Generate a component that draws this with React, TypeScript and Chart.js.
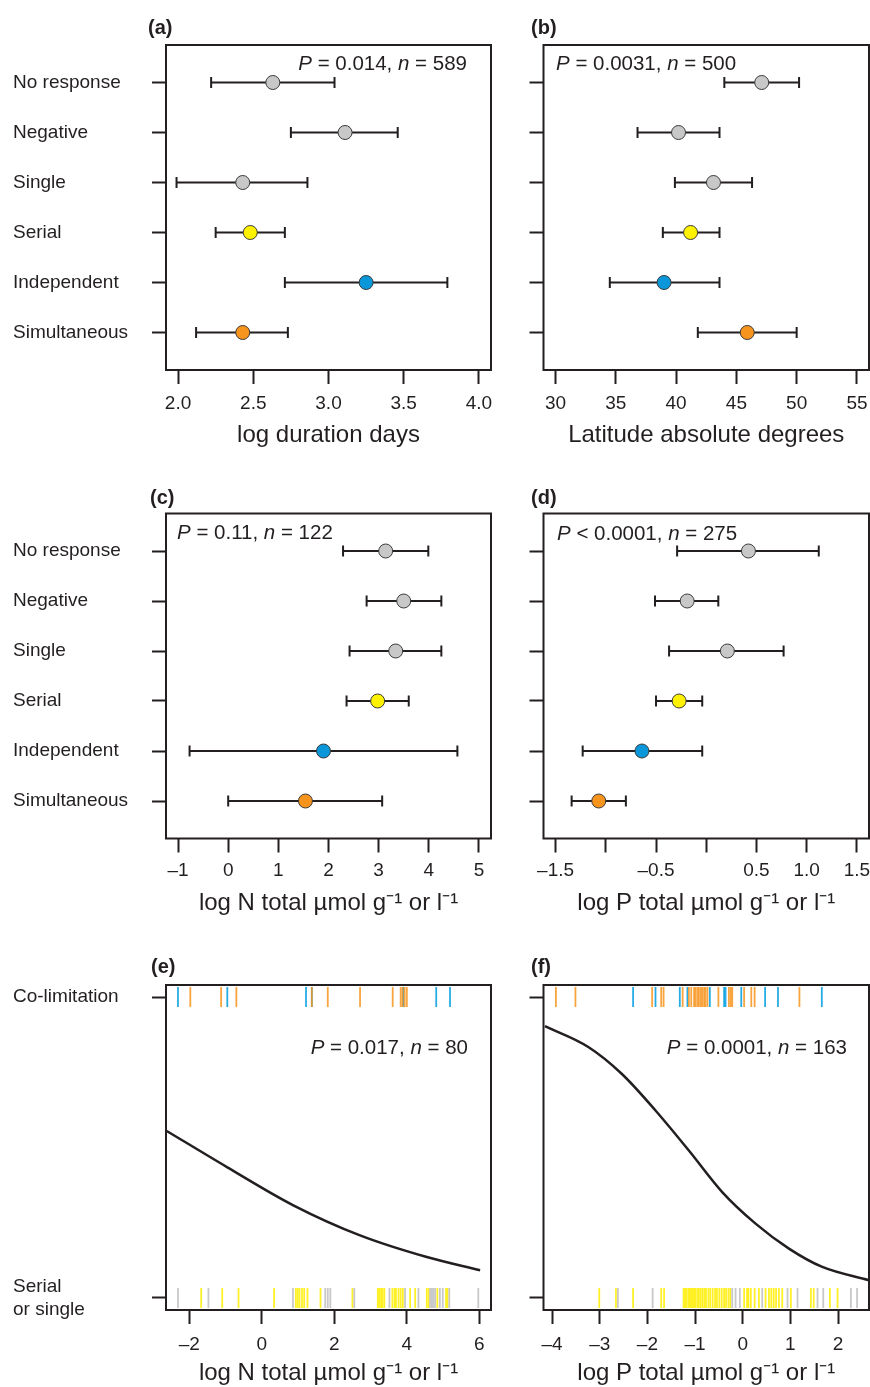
import React, { useEffect, useRef } from 'react';
import { Chart, registerables } from 'chart.js';

Chart.register(...registerables);

const FONT = '"Liberation Sans", Arial, Helvetica, sans-serif';
const INK = '#231f20';

// ---------- categories ----------
const categories = ['No response', 'Negative', 'Single', 'Serial', 'Independent', 'Simultaneous'];
const categoryLevels = [1, 2, 3, 4, 5, 6];
const markerColors = ['#c8c8c8', '#c8c8c8', '#c8c8c8', '#fff200', '#0a97d9', '#f7941d'];

// ---------- (a) log duration days ----------
const durMean = [2.63, 3.11, 2.43, 2.48, 3.25, 2.43];
const durLow = [2.22, 2.75, 1.99, 2.25, 2.71, 2.12];
const durHigh = [3.04, 3.46, 2.86, 2.71, 3.79, 2.73];
const durTicks = [2, 2.5, 3, 3.5, 4];
const durTickLabels = ['2.0', '2.5', '3.0', '3.5', '4.0'];

// ---------- (b) latitude ----------
const latMean = [47.1, 40.2, 43.1, 41.2, 39.0, 45.9];
const latLow = [44.0, 36.8, 39.9, 38.9, 34.5, 41.8];
const latHigh = [50.2, 43.6, 46.3, 43.6, 43.6, 50.0];
const latTicks = [30, 35, 40, 45, 50, 55];
const latTickLabels = ['30', '35', '40', '45', '50', '55'];

// ---------- (c) log N ----------
const nMean = [3.14, 3.50, 3.34, 2.98, 1.90, 1.54];
const nLow = [2.29, 2.76, 2.42, 2.36, -0.77, 0.0];
const nHigh = [3.99, 4.25, 4.25, 3.60, 4.57, 3.07];
const nTicks = [-1, 0, 1, 2, 3, 4, 5];
const nTickLabels = ['–1', '0', '1', '2', '3', '4', '5'];

// ---------- (d) log P ----------
const pMean = [0.42, -0.19, 0.21, -0.27, -0.64, -1.07];
const pLow = [-0.29, -0.51, -0.37, -0.50, -1.23, -1.34];
const pHigh = [1.12, 0.12, 0.77, -0.04, -0.04, -0.80];
const pTicks = [-1.5, -1, -0.5, 0, 0.5, 1, 1.5];
const pTickLabels = ['–1.5', '', '–0.5', '', '0.5', '1.0', '1.5'];

// ---------- (e) co-limitation vs log N ----------
const eColimBlue = [-2.31, -0.95, 1.22, 1.38, 3.90, 4.81, 5.19];
const eColimOrange = [-1.97, -1.12, -0.70, 1.38, 1.82, 2.71, 3.61, 3.83, 3.88, 3.94, 4.00];
const eSerialYellow = [-1.67, -1.09, -0.64, 0.34, 0.94, 0.99, 1.04, 1.11, 1.17, 1.26, 1.62, 2.50, 3.20, 3.24, 3.29, 3.33, 3.38, 3.60, 3.66, 3.70, 3.77, 3.83, 3.89, 4.09, 4.23, 4.55, 4.60, 4.84, 5.08, 5.12];
const eSerialGray = [-2.31, -1.47, 0.86, 1.75, 1.82, 1.89, 2.55, 3.52, 3.95, 4.32, 4.64, 4.69, 4.73, 4.78, 4.91, 4.99, 5.17, 5.97];
const eCurveX = [-2.62, -0.96, 0.87, 2.71, 4.55, 6.02];
const eCurveY = [0.555, 0.435, 0.308, 0.208, 0.136, 0.092];
const eTicks = [-2, 0, 2, 4, 6];
const eTickLabels = ['–2', '0', '2', '4', '6'];

// ---------- (f) co-limitation vs log P ----------
const fColimBlue = [-2.30, -1.83, -1.32, -1.16, -0.69, -0.39, -0.36, -0.03, 0.47, 0.74, 1.66];
const fColimOrange = [-3.92, -3.51, -1.90, -1.71, -1.66, -1.26, -1.13, -1.08, -1.02, -0.99, -0.95, -0.92, -0.88, -0.85, -0.81, -0.78, -0.74, -0.51, -0.29, -0.25, -0.22, 0.03, 0.18, 0.25, 1.19];
const fSerialYellow = [-3.01, -2.66, -2.30, -1.71, -1.65, -1.24, -1.21, -1.18, -1.14, -1.11, -1.08, -1.05, -1.02, -0.99, -0.95, -0.92, -0.88, -0.84, -0.80, -0.77, -0.72, -0.68, -0.63, -0.58, -0.54, -0.49, -0.44, -0.39, -0.35, -0.30, -0.26, 0.03, 0.09, 0.12, 0.17, 0.25, 0.34, 0.48, 0.55, 0.60, 0.65, 0.70, 0.76, 0.83, 1.01, 1.43, 1.49, 1.83, 1.99];
const fSerialGray = [-2.62, -1.89, -0.22, -0.15, -0.06, 0.41, 0.94, 1.15, 1.57, 1.69, 2.27, 2.40];
const fCurveX = [-4.15, -3.24, -2.54, -1.83, -1.13, -0.43, 0.27, 0.97, 1.67, 2.65];
const fCurveY = [0.903, 0.834, 0.745, 0.623, 0.490, 0.352, 0.247, 0.164, 0.103, 0.059];
const fTicks = [-4, -3, -2, -1, 0, 1, 2];
const fTickLabels = ['–4', '–3', '–2', '–1', '0', '1', '2'];

const outcomeLevels = [0, 1];
const outcomeLabels: (string | string[])[] = [['Serial', 'or single'], 'Co-limitation'];

const RUG_BLUE = 'rgba(0,158,224,0.85)';
const RUG_ORANGE = 'rgba(247,148,29,0.85)';
const RUG_YELLOW = 'rgba(255,238,0,0.85)';
const RUG_GRAY = 'rgba(190,190,190,0.85)';

// ---------- geometry ----------
type Geo = {
  left: number; top: number; width: number; height: number;
  areaLeft: number; areaRight: number; areaTop: number; areaBottom: number;
  tickPad: number; titleCenter: number;
};

const colL = { left: 0, width: 500, areaLeft: 166, areaRight: 491 };
const colR = { left: 500, width: 370, areaLeft: 543.5, areaRight: 869 };
const row1 = { top: 0, height: 460, areaTop: 45, areaBottom: 370, tickPad: 8, titleCenter: 435 };
const row2 = { top: 470, height: 460, areaTop: 513.5, areaBottom: 838.5, tickPad: 6.5, titleCenter: 903 };
const row3 = { top: 940, height: 447, areaTop: 985, areaBottom: 1310, tickPad: 9.5, titleCenter: 1373 };

const TITLE_SIZE = 24;

const boxPlugin = {
  id: 'box',
  afterDraw(chart: any) {
    const { ctx, chartArea } = chart;
    ctx.save();
    ctx.strokeStyle = INK;
    ctx.lineWidth = 2;
    ctx.strokeRect(chartArea.left, chartArea.top, chartArea.right - chartArea.left, chartArea.bottom - chartArea.top);
    ctx.restore();
  },
};

type Axis = { min: number; max: number; ticks: number[]; labels: (string | string[])[]; title?: string; reverse?: boolean; show?: boolean };

function forestDatasets(mean: number[], low: number[], high: number[]) {
  const ds: any[] = [
    {
      data: mean.map((m, i) => ({ x: m, y: categoryLevels[i] })),
      pointRadius: 7,
      pointBackgroundColor: markerColors,
      pointBorderColor: '#3a3a3a',
      pointBorderWidth: 1,
      showLine: false,
    },
  ];
  low.forEach((lo, i) => {
    ds.push({
      data: [{ x: lo, y: categoryLevels[i] }, { x: high[i], y: categoryLevels[i] }],
      showLine: true,
      borderColor: INK,
      borderWidth: 2,
      pointStyle: 'line',
      pointRotation: 90,
      pointRadius: 5.5,
      pointBorderColor: INK,
      pointBorderWidth: 2,
    });
  });
  return ds;
}

function rug(values: number[], level: number, color: string) {
  return {
    data: values.map((v) => ({ x: v, y: level })),
    showLine: false,
    pointStyle: 'line',
    pointRotation: 90,
    pointRadius: 10,
    pointBorderColor: color,
    pointBorderWidth: 1.8,
  };
}

function curve(xs: number[], ys: number[]) {
  return {
    data: xs.map((x, i) => ({ x, y: ys[i] })),
    showLine: true,
    borderColor: INK,
    borderWidth: 2.5,
    pointRadius: 0,
    cubicInterpolationMode: 'monotone',
  };
}

function Panel({ g, x, y, datasets }: { g: Geo; x: Axis; y: Axis; datasets: any[] }) {
  const ref = useRef<HTMLCanvasElement>(null);
  useEffect(() => {
    const padLeft = g.left === 0 ? 13 : 0;
    const bottom = g.top + g.height;
    const titlePad = bottom - g.titleCenter - (TITLE_SIZE * 1.2) / 2;
    const grid = {
      display: true,
      drawOnChartArea: false,
      drawTicks: true,
      tickLength: 14,
      tickWidth: 2,
      tickColor: INK,
    };
    const chart = new Chart(ref.current as HTMLCanvasElement, {
      type: 'scatter',
      data: { datasets },
      options: {
        responsive: false,
        animation: false,
        events: [],
        layout: {
          autoPadding: false,
          padding: {
            left: padLeft,
            right: g.left + g.width - g.areaRight,
            top: g.areaTop - g.top,
            bottom: 0,
          },
        },
        plugins: { legend: { display: false }, tooltip: { enabled: false } },
        scales: {
          x: {
            type: 'linear',
            min: x.min,
            max: x.max,
            afterBuildTicks: (s: any) => {
              s.ticks = x.ticks.map((v) => ({ value: v }));
            },
            afterFit: (s: any) => {
              s.height = bottom - g.areaBottom;
              s.paddingLeft = 0;
              s.paddingRight = 0;
            },
            ticks: {
              autoSkip: false,
              maxRotation: 0,
              padding: g.tickPad,
              color: INK,
              font: { family: FONT, size: 19 },
              callback: (_v: any, i: number) => x.labels[i],
            },
            grid,
            border: { display: false },
            title: {
              display: true,
              text: x.title,
              color: INK,
              font: { family: FONT, size: TITLE_SIZE },
              padding: { top: 0, bottom: titlePad },
            },
          },
          y: {
            type: 'linear',
            min: y.min,
            max: y.max,
            reverse: !!y.reverse,
            afterBuildTicks: (s: any) => {
              s.ticks = y.ticks.map((v) => ({ value: v }));
            },
            afterFit: (s: any) => {
              s.width = g.areaLeft - g.left - padLeft;
              s.paddingTop = 0;
              s.paddingBottom = 0;
            },
            ticks: {
              display: !!y.show,
              crossAlign: 'far',
              padding: 0,
              color: INK,
              font: { family: FONT, size: 19 },
              callback: (_v: any, i: number) => y.labels[i],
            },
            grid,
            border: { display: false },
          },
        },
      } as any,
      plugins: [boxPlugin],
    });
    return () => chart.destroy();
  }, []);
  return (
    <canvas
      ref={ref}
      width={g.width}
      height={g.height}
      style={{ position: 'absolute', left: g.left, top: g.top, width: g.width, height: g.height }}
    />
  );
}

function Label({ x, y, children, bold, anchorRight }: any) {
  return (
    <div
      style={{
        position: 'absolute',
        left: x,
        top: y,
        transform: `translate(${anchorRight ? '-100%' : '0'}, -50%)`,
        fontFamily: FONT,
        fontSize: bold ? 20 : 20.5,
        fontWeight: bold ? 700 : 400,
        color: INK,
        whiteSpace: 'nowrap',
        lineHeight: 1,
      }}
    >
      {children}
    </div>
  );
}

const catAxis = (show: boolean): Axis => ({ min: 0.25, max: 6.75, ticks: categoryLevels, labels: categories, reverse: true, show });
const outAxis = (show: boolean): Axis => ({ min: -0.04, max: 1.04, ticks: outcomeLevels, labels: outcomeLabels, show });

export default function App() {
  useEffect(() => {
    document.body.style.margin = '0';
    document.body.style.background = '#ffffff';
  }, []);
  const gA = { ...colL, ...row1 };
  const gB = { ...colR, ...row1 };
  const gC = { ...colL, ...row2 };
  const gD = { ...colR, ...row2 };
  const gE = { ...colL, ...row3 };
  const gF = { ...colR, ...row3 };
  return (
    <div style={{ position: 'relative', width: 870, height: 1387, background: '#fff', overflow: 'hidden' }}>
      <Panel g={gA} x={{ min: 1.92, max: 4.08, ticks: durTicks, labels: durTickLabels, title: 'log duration days' }} y={catAxis(true)} datasets={forestDatasets(durMean, durLow, durHigh)} />
      <Panel g={gB} x={{ min: 29, max: 56, ticks: latTicks, labels: latTickLabels, title: 'Latitude absolute degrees' }} y={catAxis(false)} datasets={forestDatasets(latMean, latLow, latHigh)} />
      <Panel g={gC} x={{ min: -1.24, max: 5.24, ticks: nTicks, labels: nTickLabels, title: 'log N total µmol g⁻¹ or l⁻¹' }} y={catAxis(true)} datasets={forestDatasets(nMean, nLow, nHigh)} />
      <Panel g={gD} x={{ min: -1.62, max: 1.62, ticks: pTicks, labels: pTickLabels, title: 'log P total µmol g⁻¹ or l⁻¹' }} y={catAxis(false)} datasets={forestDatasets(pMean, pLow, pHigh)} />
      <Panel
        g={gE}
        x={{ min: -2.64, max: 6.32, ticks: eTicks, labels: eTickLabels, title: 'log N total µmol g⁻¹ or l⁻¹' }}
        y={outAxis(true)}
        datasets={[
          curve(eCurveX, eCurveY),
          rug(eColimOrange, 1, RUG_ORANGE),
          rug(eColimBlue, 1, RUG_BLUE),
          rug(eSerialGray, 0, RUG_GRAY),
          rug(eSerialYellow, 0, RUG_YELLOW),
        ]}
      />
      <Panel
        g={gF}
        x={{ min: -4.18, max: 2.65, ticks: fTicks, labels: fTickLabels, title: 'log P total µmol g⁻¹ or l⁻¹' }}
        y={outAxis(false)}
        datasets={[
          curve(fCurveX, fCurveY),
          rug(fColimOrange, 1, RUG_ORANGE),
          rug(fColimBlue, 1, RUG_BLUE),
          rug(fSerialGray, 0, RUG_GRAY),
          rug(fSerialYellow, 0, RUG_YELLOW),
        ]}
      />

      <Label x={148} y={27} bold>(a)</Label>
      <Label x={531} y={27} bold>(b)</Label>
      <Label x={150} y={497} bold>(c)</Label>
      <Label x={531} y={497} bold>(d)</Label>
      <Label x={151} y={966} bold>(e)</Label>
      <Label x={531} y={966} bold>(f)</Label>

      <Label x={467} y={63} anchorRight><i>P</i> = 0.014, <i>n</i> = 589</Label>
      <Label x={556} y={63}><i>P</i> = 0.0031, <i>n</i> = 500</Label>
      <Label x={177} y={532}><i>P</i> = 0.11, <i>n</i> = 122</Label>
      <Label x={557} y={533}><i>P</i> &lt; 0.0001, <i>n</i> = 275</Label>
      <Label x={468} y={1047} anchorRight><i>P</i> = 0.017, <i>n</i> = 80</Label>
      <Label x={847} y={1047} anchorRight><i>P</i> = 0.0001, <i>n</i> = 163</Label>
    </div>
  );
}
